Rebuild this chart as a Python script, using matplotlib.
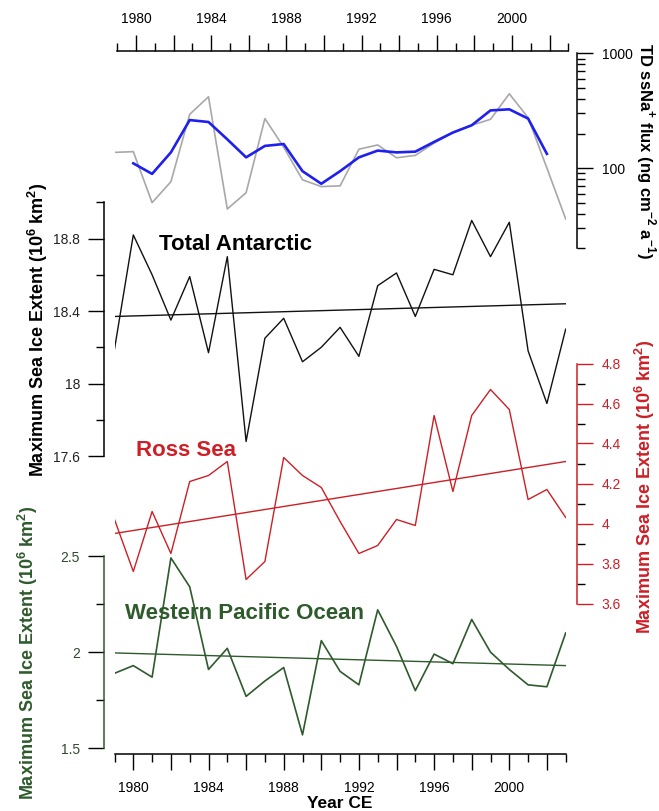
import matplotlib.pyplot as plt
import matplotlib.ticker as mticker

plt.rcParams['font.family'] = ['Liberation Sans', 'DejaVu Sans']
plt.rcParams['mathtext.fontset'] = 'custom'
plt.rcParams['mathtext.rm'] = 'Liberation Sans'
plt.rcParams['mathtext.bf'] = 'Liberation Sans:bold'

# annual values 1979-2003
years = list(range(1979, 2004))
flux_annual = [137, 139, 50, 76, 294, 418, 44, 61, 270, 152, 79, 69, 70,
               146, 159, 123, 129, 165, 204, 236, 266, 444, 275, 100, 36]
# 3-year running mean of the flux record
mean_years = list(range(1980, 2003))
flux_mean = [110, 89, 137, 262, 252, 178, 124, 156, 162, 94, 73, 94, 124,
             142, 137, 139, 169, 204, 236, 318, 325, 270, 133]
total_ice = [18.19, 18.82, 18.60, 18.35, 18.59, 18.17, 18.70, 17.68, 18.25,
             18.36, 18.12, 18.20, 18.31, 18.15, 18.54, 18.61, 18.37, 18.63,
             18.60, 18.90, 18.70, 18.89, 18.18, 17.89, 18.30]
ross_ice = [4.02, 3.76, 4.06, 3.85, 4.21, 4.24, 4.31, 3.72, 3.81, 4.33,
            4.24, 4.18, 4.01, 3.85, 3.89, 4.02, 3.99, 4.54, 4.16, 4.54,
            4.67, 4.57, 4.12, 4.17, 4.03]
wpo_ice = [1.89, 1.93, 1.87, 2.49, 2.34, 1.91, 2.02, 1.77, 1.85, 1.92,
           1.57, 2.06, 1.90, 1.83, 2.22, 2.03, 1.80, 1.99, 1.94, 2.17,
           2.00, 1.91, 1.83, 1.82, 2.10]
# linear trends (end points)
trend_years = [1979, 2003]
total_trend = [18.37, 18.44]
ross_trend = [3.95, 4.31]
wpo_trend = [1.996, 1.930]

year_ticks = list(range(1980, 2003, 2))
year_labels = [str(y) if y % 4 == 0 else '' for y in year_ticks]
odd_years = list(range(1979, 2004, 2))

RED = '#cc1f26'
GREEN = '#2e5a2c'
BLUE = '#2020ee'
GRAY = '#a8a8a8'
TICK_SIZE = 10

W, H = 659, 811
fig = plt.figure(figsize=(W / 100, H / 100), dpi=100)


def box(x0, y0, x1, y1):
    return [x0 / W, 1 - y1 / H, (x1 - x0) / W, (y1 - y0) / H]


def clean(ax, keep):
    ax.patch.set_alpha(0)
    for side in ['left', 'right', 'top', 'bottom']:
        ax.spines[side].set_visible(side in keep)
        ax.spines[side].set_linewidth(1.1)
    ax.set_xlim(1979, 2003)


def y_ticks(ax, side, major, labels, minor, color='black', lcolor='#222222'):
    ax.yaxis.set_ticks_position(side)
    ax.set_yticks(major, labels=labels)
    ax.set_yticks(minor, minor=True)
    ax.tick_params(axis='y', which='major', length=11.5, width=1.0, pad=6,
                   labelsize=TICK_SIZE, color=color, labelcolor=lcolor)
    ax.tick_params(axis='y', which='minor', length=6, width=1.0, color='black')


# top year axis
ax_top = fig.add_axes(box(117.3, 51.3, 568.3, 52.3))
clean(ax_top, ['top'])
ax_top.set_yticks([])
ax_top.xaxis.tick_top()
ax_top.set_xticks(year_ticks, labels=year_labels)
ax_top.set_xticks(odd_years, minor=True)
ax_top.tick_params(axis='x', which='major', length=11.7, width=1.0, pad=6.5,
                   labelsize=TICK_SIZE)
ax_top.tick_params(axis='x', which='minor', length=5.5, width=1.0)

# ssNa+ flux
ax_flux = fig.add_axes(box(114.5, 53.3, 565.7, 248.3))
clean(ax_flux, ['right'])
ax_flux.set_xticks([])
ax_flux.set_yscale('log')
ax_flux.set_ylim(20, 1000)
ax_flux.spines['right'].set_position(('outward', 8.35))
ax_flux.plot(years, flux_annual, color=GRAY, lw=1.2)
ax_flux.plot(mean_years, flux_mean, color=BLUE, lw=1.9)
ax_flux.yaxis.set_ticks_position('right')
ax_flux.set_yticks([100, 1000], labels=['100', '1000'])
ax_flux.yaxis.set_minor_locator(mticker.LogLocator(subs=range(2, 10)))
ax_flux.yaxis.set_minor_formatter(mticker.NullFormatter())
ax_flux.tick_params(axis='y', which='major', length=11.5, width=1.0, pad=6,
                    labelsize=TICK_SIZE)
ax_flux.tick_params(axis='y', which='minor', length=6, width=1.0)

# total Antarctic
ax_tot = fig.add_axes(box(114.5, 202.3, 565.7, 456.0))
clean(ax_tot, ['left'])
ax_tot.set_xticks([])
ax_tot.set_ylim(17.6, 19.0)
ax_tot.spines['left'].set_position(('outward', 7.3))
ax_tot.plot(years, total_ice, color='#111111', lw=1.0)
ax_tot.plot(trend_years, total_trend, color='#111111', lw=1.0)
y_ticks(ax_tot, 'left', [17.6, 18.0, 18.4, 18.8], ['17.6', '18', '18.4', '18.8'],
        [17.8, 18.2, 18.6, 19.0])

# Ross Sea
ax_ross = fig.add_axes(box(114.5, 363.5, 565.7, 603.5))
clean(ax_ross, ['right'])
ax_ross.set_xticks([])
ax_ross.set_ylim(3.6, 4.8)
ax_ross.spines['right'].set_position(('outward', 8.35))
ax_ross.spines['right'].set_color(RED)
ax_ross.plot(years, ross_ice, color=RED, lw=1.0)
ax_ross.plot(trend_years, ross_trend, color=RED, lw=1.0)
y_ticks(ax_ross, 'right', [3.6, 3.8, 4.0, 4.2, 4.4, 4.6, 4.8],
        ['3.6', '3.8', '4', '4.2', '4.4', '4.6', '4.8'],
        [3.7, 3.9, 4.1, 4.3, 4.5, 4.7], color=RED, lcolor=RED)

# Western Pacific Ocean
ax_wpo = fig.add_axes(box(114.5, 556.0, 565.7, 748.3))
clean(ax_wpo, ['left', 'bottom'])
ax_wpo.set_ylim(1.5, 2.5)
ax_wpo.spines['left'].set_position(('outward', 7.3))
ax_wpo.spines['left'].set_color(GREEN)
ax_wpo.spines['bottom'].set_position(('outward', 4.3))
ax_wpo.plot(years, wpo_ice, color=GREEN, lw=1.2)
ax_wpo.plot(trend_years, wpo_trend, color=GREEN, lw=1.0)
y_ticks(ax_wpo, 'left', [1.5, 2.0, 2.5], ['1.5', '2', '2.5'], [1.75, 2.25],
        lcolor='#2f4a2f')
ax_wpo.set_xticks(year_ticks, labels=year_labels)
ax_wpo.set_xticks(odd_years, minor=True)
ax_wpo.tick_params(axis='x', which='major', length=11.7, width=1.0, pad=7.5,
                   labelsize=TICK_SIZE)
ax_wpo.tick_params(axis='x', which='minor', length=5.8, width=1.0)

# panel names
fig.text(159 / W, 1 - 250 / H, 'Total Antarctic', fontsize=16, fontweight='bold',
         color='black', va='baseline')
fig.text(136 / W, 1 - 456 / H, 'Ross Sea', fontsize=16, fontweight='bold',
         color=RED, va='baseline')
fig.text(125 / W, 1 - 619.3 / H, 'Western Pacific Ocean', fontsize=16,
         fontweight='bold', color=GREEN, va='baseline')

# axis titles
ice_label = r'Maximum Sea Ice Extent (10$^{\mathbf{6}}$ km$^{\mathbf{2}}$)'
fig.text(38 / W, 1 - 330 / H, ice_label, rotation=90, fontsize=13,
         fontweight='bold', ha='center', va='center')
fig.text(28 / W, 1 - 653 / H, ice_label, rotation=90, fontsize=13,
         fontweight='bold', ha='center', va='center', color=GREEN)
fig.text(645 / W, 1 - 487 / H, ice_label, rotation=90, fontsize=13,
         fontweight='bold', ha='center', va='center', color=RED)
fig.text(646 / W, 1 - 151 / H,
         r'TD ssNa$^{\mathbf{+}}$ flux (ng cm$^{\mathbf{-2}}$ a$^{\mathbf{-1}}$)',
         rotation=270, fontsize=12, fontweight='bold', ha='center', va='center')
fig.text(340 / W, 1 - 803 / H, 'Year CE', fontsize=12.5, fontweight='bold',
         ha='center', va='center')

fig.savefig('out.png', dpi=100)
